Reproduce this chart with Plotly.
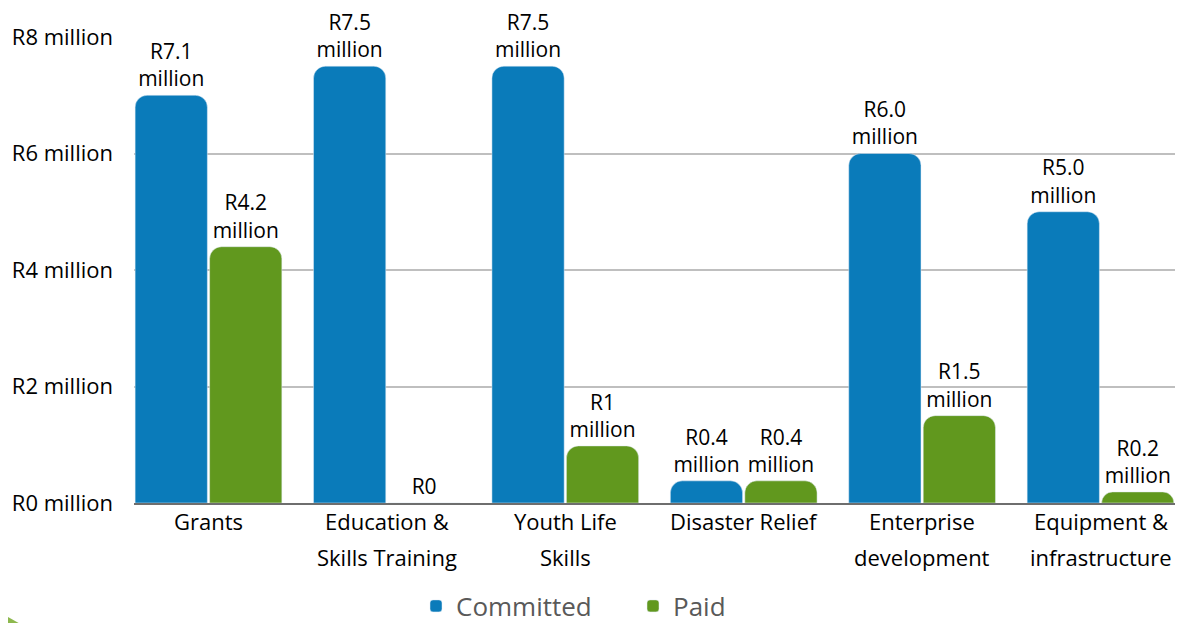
import plotly.graph_objects as go

categories = ["Grants", "Education &<br>Skills Training", "Youth Life<br>Skills",
              "Disaster Relief", "Enterprise<br>development", "Equipment &<br>infrastructure"]
committed = [7.0, 7.5, 7.5, 0.38, 6.0, 5.0]
paid = [4.4, 0.0, 0.98, 0.38, 1.5, 0.19]
committed_labels = ["R7.1<br>million", "R7.5<br>million", "R7.5<br>million",
                    "R0.4<br>million", "R6.0<br>million", "R5.0<br>million"]
paid_labels = ["R4.2<br>million", "R0", "R1<br>million",
               "R0.4<br>million", "R1.5<br>million", "R0.2<br>million"]
y_tickvals = [0, 2, 4, 6, 8]
y_ticktext = ["R0 million", "R2 million", "R4 million", "R6 million", "R8 million"]

# page body has an 8px default margin; size the figure to fill the rest of the window
OFF = 8
W, H = 1183 - OFF, 623 - OFF
ML, MR, MT, MB = 134 - OFF, 8, 37 - OFF, 120
FONT = "Open Sans"
BLUE = "#0A7BBA"
GREEN = "#61981E"

fig = go.Figure()
fig.add_trace(go.Bar(
    x=categories, y=committed, name="Committed", marker_color=BLUE,
    text=committed_labels, textposition="outside", textangle=0,
    constraintext="none", cliponaxis=False,
    textfont=dict(family=FONT, size=21, color="#000000"),
))
fig.add_trace(go.Bar(
    x=categories, y=paid, name="Paid", marker_color=GREEN,
    text=paid_labels, textposition="outside", textangle=0,
    constraintext="none", cliponaxis=False,
    textfont=dict(family=FONT, size=21, color="#000000"),
))

pw = W - ML - MR
ph = H - MT - MB


def screen_to_paper(sx, sy):
    fx, fy = sx - OFF, sy - OFF
    return (fx - ML) / pw, (H - MB - fy) / ph


annotations = []
for c in categories:
    lines = c.split("<br>")
    for i, line in enumerate(lines):
        _, yp = screen_to_paper(0, 521 + 36 * i)
        annotations.append(dict(
            x=c, xref="x", y=yp, yref="paper", text=line, showarrow=False,
            xanchor="center", yanchor="middle",
            font=dict(family=FONT, size=22, color="#000000"),
        ))

# decorative green corner
p1 = screen_to_paper(-10, 607)
p2 = screen_to_paper(24, 626)
p3 = screen_to_paper(-10, 626)
shapes = [dict(
    type="path", xref="paper", yref="paper",
    path=f"M {p1[0]} {p1[1]} L {p2[0]} {p2[1]} L {p3[0]} {p3[1]} Z",
    fillcolor="#8DB84E", line=dict(width=0),
)]

lx, ly = screen_to_paper(416, 606)

fig.update_layout(
    width=W, height=H,
    margin=dict(l=ML, r=MR, t=MT, b=MB, autoexpand=False),
    paper_bgcolor="white", plot_bgcolor="white",
    barmode="group", bargap=0.165, bargroupgap=0.03,
    barcornerradius=12,
    font=dict(family=FONT, size=22, color="#000000"),
    xaxis=dict(
        type="category", range=[-0.4175, 5.4175], showticklabels=False,
        showgrid=False, showline=True, linecolor="#6E6E6E", linewidth=2,
        ticks="", zeroline=False,
    ),
    yaxis=dict(
        range=[0, 8], tickvals=y_tickvals, ticktext=y_ticktext,
        showgrid=True, gridcolor="#BFBFBF", gridwidth=2,
        zeroline=False, showline=False, ticks="", ticklabelstandoff=20,
        tickfont=dict(family=FONT, size=22, color="#000000"),
    ),
    legend=dict(
        orientation="h", x=lx, y=ly, xanchor="left", yanchor="middle",
        font=dict(family=FONT, size=26, color="#595959"),
        bgcolor="rgba(0,0,0,0)", itemclick=False,
        entrywidth=172, entrywidthmode="pixels",
    ),
    annotations=annotations,
    shapes=shapes,
    showlegend=True,
)

fig.write_html("out.html")
